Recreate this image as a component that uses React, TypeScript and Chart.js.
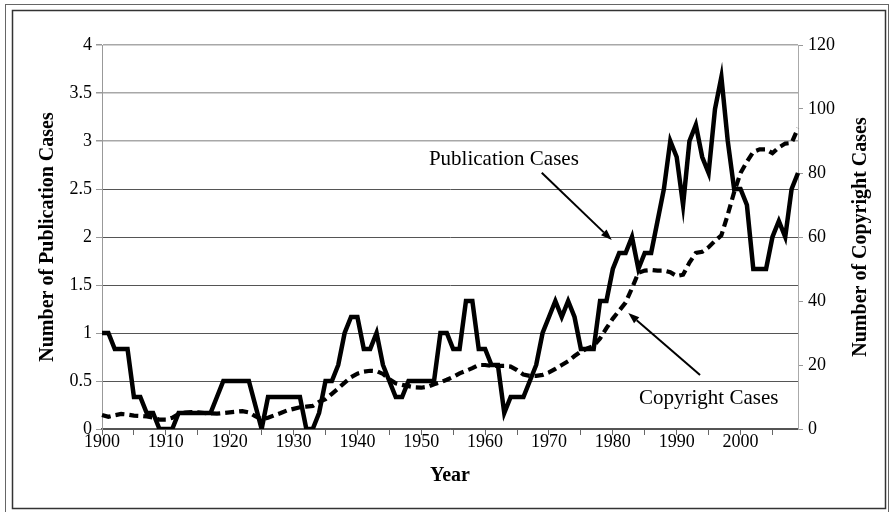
import React, { useEffect, useRef } from 'react';
import { Chart, registerables } from 'chart.js';

Chart.register(...registerables);

const FIRST_YEAR = 1900;
const LAST_YEAR = 2009;
const years: string[] = [];
for (let y = FIRST_YEAR; y <= LAST_YEAR; y++) years.push(String(y));

// Number of publication cases (left axis)
const publicationCases: number[] = [
  1, 1, 0.833, 0.833, 0.833, 0.333, 0.333, 0.167, 0.167, 0,
  0, 0, 0.167, 0.167, 0.167, 0.167, 0.167, 0.167, 0.333, 0.5,
  0.5, 0.5, 0.5, 0.5, 0.25, 0, 0.333, 0.333, 0.333, 0.333,
  0.333, 0.333, 0, 0, 0.167, 0.5, 0.5, 0.667, 1, 1.167,
  1.167, 0.833, 0.833, 1, 0.667, 0.5, 0.333, 0.333, 0.5, 0.5,
  0.5, 0.5, 0.5, 1, 1, 0.833, 0.833, 1.333, 1.333, 0.833,
  0.833, 0.667, 0.667, 0.167, 0.333, 0.333, 0.333, 0.5, 0.667, 1,
  1.167, 1.333, 1.167, 1.333, 1.167, 0.833, 0.833, 0.833, 1.333, 1.333,
  1.667, 1.833, 1.833, 2, 1.667, 1.833, 1.833, 2.167, 2.5, 3,
  2.833, 2.333, 3, 3.167, 2.833, 2.667, 3.333, 3.667, 3, 2.5,
  2.5, 2.333, 1.667, 1.667, 1.667, 2, 2.167, 2, 2.5, 2.667,
];

// Number of copyright cases (right axis)
const copyrightCases: number[] = [
  4.4, 3.8, 4.3, 4.7, 4.5, 4.2, 4.1, 3.9, 3.6, 2.9,
  2.9, 3.5, 4.7, 5.1, 5.3, 5.2, 5.0, 4.9, 4.8, 5.0,
  5.2, 5.4, 5.6, 5.2, 4.0, 3.0, 3.5, 4.3, 5.0, 5.8,
  6.3, 6.8, 7.0, 7.2, 8.5, 9.3, 11.0, 12.7, 14.5, 16.2,
  17.3, 17.9, 18.2, 18.1, 17.2, 15.6, 14.3, 13.8, 13.4, 13.0,
  12.9, 13.2, 14.0, 14.6, 15.4, 16.3, 17.4, 18.2, 19.0, 20.0,
  20.0, 19.7, 19.7, 19.7, 19.5, 18.4, 17.0, 16.6, 16.6, 16.9,
  17.7, 18.8, 20.0, 21.2, 22.8, 24.2, 25.2, 26.0, 28.3, 31.5,
  34.5, 37.0, 39.5, 44.0, 48.8, 49.5, 49.7, 49.5, 49.5, 49.0,
  47.8, 48.2, 52.0, 55.0, 55.4, 56.8, 58.8, 60.5, 67.0, 74.0,
  80.0, 83.5, 86.6, 87.4, 87.4, 86.2, 88.0, 89.2, 89.4, 94.0,
];

const leftTitle = 'Number of Publication Cases';
const rightTitle = 'Number of Copyright Cases';
const xTitle = 'Year';
const pubLabel = 'Publication Cases';
const copyLabel = 'Copyright Cases';

const SERIF = '"Liberation Serif", "Times New Roman", serif';

function drawArrow(ctx: CanvasRenderingContext2D, x1: number, y1: number, x2: number, y2: number) {
  const ang = Math.atan2(y2 - y1, x2 - x1);
  const len = 11;
  const hw = 4;
  const bx = x2 - len * Math.cos(ang);
  const by = y2 - len * Math.sin(ang);
  ctx.beginPath();
  ctx.moveTo(x1, y1);
  ctx.lineTo(bx, by);
  ctx.lineWidth = 2;
  ctx.strokeStyle = '#000';
  ctx.stroke();
  ctx.beginPath();
  ctx.moveTo(x2, y2);
  ctx.lineTo(bx + hw * Math.sin(ang), by - hw * Math.cos(ang));
  ctx.lineTo(bx - hw * Math.sin(ang), by + hw * Math.cos(ang));
  ctx.closePath();
  ctx.fillStyle = '#000';
  ctx.fill();
}

const overlayPlugin = {
  id: 'overlay',
  beforeDraw(chart: any) {
    const ctx: CanvasRenderingContext2D = chart.ctx;
    ctx.save();
    ctx.fillStyle = '#fff';
    ctx.fillRect(0, 0, chart.width, chart.height);
    ctx.strokeStyle = '#666';
    ctx.lineWidth = 1;
    ctx.strokeRect(5.5, 4.5, 883, 510);
    ctx.strokeStyle = '#333';
    ctx.lineWidth = 1.5;
    ctx.strokeRect(12.5, 10.5, 873, 498);
    ctx.restore();
  },
  afterDraw(chart: any) {
    const ctx: CanvasRenderingContext2D = chart.ctx;
    const x = chart.scales.x;
    const y = chart.scales.y;
    const y1 = chart.scales.y1;
    ctx.save();
    ctx.font = `21px ${SERIF}`;
    ctx.fillStyle = '#000';
    ctx.textBaseline = 'alphabetic';
    ctx.textAlign = 'left';
    ctx.fillText(pubLabel, x.getPixelForValue(51.2), y.getPixelForValue(2.75));
    ctx.fillText(copyLabel, x.getPixelForValue(84.1), y1.getPixelForValue(7.8));
    drawArrow(ctx, x.getPixelForValue(68.87), y.getPixelForValue(2.67), x.getPixelForValue(79.83), y.getPixelForValue(1.969));
    drawArrow(ctx, x.getPixelForValue(93.66), y1.getPixelForValue(16.9), x.getPixelForValue(82.43), y1.getPixelForValue(36.25));
    // right axis title, reading bottom-to-top like the left one
    ctx.translate(y1.right - 29, (y1.top + y1.bottom) / 2);
    ctx.rotate(-Math.PI / 2);
    ctx.font = `bold 20px ${SERIF}`;
    ctx.textAlign = 'center';
    ctx.textBaseline = 'middle';
    ctx.fillText(rightTitle, 0, 0);
    ctx.restore();
  },
};

export default function App() {
  const ref = useRef<HTMLCanvasElement | null>(null);
  useEffect(() => {
    if (!ref.current) return;
    const chart = new Chart(ref.current, {
      type: 'line',
      data: {
        labels: years,
        datasets: [
          {
            label: pubLabel,
            data: publicationCases,
            yAxisID: 'y',
            borderColor: '#000',
            borderWidth: 4.5,
            pointRadius: 0,
            tension: 0,
            fill: false,
          },
          {
            label: copyLabel,
            data: copyrightCases,
            yAxisID: 'y1',
            borderColor: '#000',
            borderWidth: 4.2,
            borderDash: [9, 5],
            pointRadius: 0,
            tension: 0,
            fill: false,
          },
        ],
      },
      options: {
        animation: false,
        responsive: false,
        devicePixelRatio: 1,
        layout: { padding: { left: 0, right: 0, top: 45, bottom: 0 } },
        plugins: { legend: { display: false }, tooltip: { enabled: false } },
        scales: {
          x: {
            type: 'category',
            afterFit: (s: any) => { s.height = 83; },
            grid: {
              drawOnChartArea: false,
              tickLength: 6,
              tickColor: (c: any) => (c.index % 5 === 0 ? '#666' : 'rgba(0,0,0,0)'),
            },
            border: { color: '#555', width: 1.5 },
            ticks: {
              autoSkip: false,
              maxRotation: 0,
              minRotation: 0,
              padding: -4,
              color: '#000',
              font: { family: SERIF, size: 18 },
              callback: (_v: any, i: number) => (Number(years[i]) % 10 === 0 ? years[i] : ''),
            },
            title: {
              display: true,
              text: xTitle,
              color: '#000',
              font: { family: SERIF, size: 20, weight: 'bold' },
              padding: { top: 0, bottom: 24 },
            },
          },
          y: {
            position: 'left',
            min: 0,
            max: 4,
            afterFit: (s: any) => { s.width = 102; },
            grid: {
              color: (c: any) => (c.tick && c.tick.value >= 3 ? '#a8a8a8' : '#555'),
              lineWidth: (c: any) => (c.tick && c.tick.value >= 3 ? 1.5 : 1),
              tickLength: 6,
              tickColor: '#999',
            },
            border: { color: '#999', width: 1 },
            ticks: {
              stepSize: 0.5,
              padding: 4,
              color: '#000',
              font: { family: SERIF, size: 18 },
              callback: (v: any) => String(v),
            },
            title: {
              display: true,
              text: leftTitle,
              color: '#000',
              font: { family: SERIF, size: 20, weight: 'bold' },
              padding: { top: 36, bottom: 0 },
            },
          },
          y1: {
            position: 'right',
            min: 0,
            max: 120,
            afterFit: (s: any) => { s.width = 92; },
            grid: { drawOnChartArea: false, tickLength: 5, tickColor: '#999' },
            border: { color: '#aaa', width: 1 },
            ticks: {
              stepSize: 20,
              padding: 5,
              color: '#000',
              font: { family: SERIF, size: 18 },
            },
          },
        },
      },
      plugins: [overlayPlugin],
    } as any);
    return () => chart.destroy();
  }, []);
  return (
    <div style={{ position: 'absolute', left: 0, top: 0, width: 890, height: 512 }}>
      <canvas ref={ref} width={890} height={512} style={{ width: 890, height: 512, display: 'block' }} />
    </div>
  );
}
